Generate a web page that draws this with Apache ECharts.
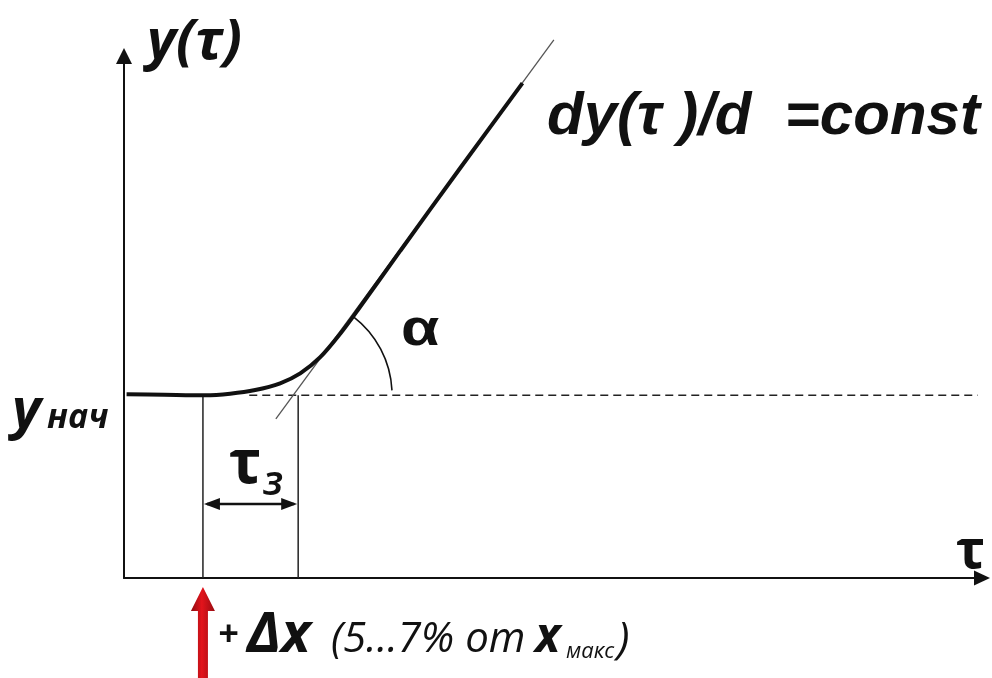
<!DOCTYPE html>
<html>
<head>
<meta charset="utf-8">
<script src="https://cdn.jsdelivr.net/npm/echarts@6/dist/echarts.min.js"></script>
<style>
  html, body { margin: 0; padding: 0; background: #fff; }
  #chart { width: 992px; height: 678px; }
</style>
</head>
<body>
<div id="chart"></div>
<script>
// Step response of an object with transport delay: y(τ) after a step +Δx
const stepTime = 0.92;          // moment of the step input
const delayEnd = 2.03;          // end of the delay τз
const yStart = 3.5;             // initial output level y_нач

// response curve
const curveTau = [0.03, 0.47, 0.945, 1.237, 1.529, 1.820, 2.054, 2.287, 2.520, 2.719, 3.221, 3.921, 4.644];
const curveY   = [3.52, 3.51, 3.50,  3.53,  3.60,  3.73,  3.92,  4.23,  4.68,  5.12,  6.27,  7.86,  9.48];

// tangent to the straight part of the response
const tangentTau = [1.77, 5.01];
const tangentY   = [3.05, 10.31];

// dashed continuation of the initial level
const levelTau = [1.46, 9.95];

// height of the τз dimension arrow
const delayArrowY = 1.42;

const curveData = curveTau.map((t, i) => [t, curveY[i]]);
const tangentData = tangentTau.map((t, i) => [t, tangentY[i]]);
const levelData = levelTau.map(t => [t, yStart]);
const stepLine = [[stepTime, 0], [stepTime, yStart]];
const delayLine = [[delayEnd, 0], [delayEnd, yStart]];

// where the tangent crosses the initial level (vertex of the angle α)
const tangentSlope = (tangentY[1] - tangentY[0]) / (tangentTau[1] - tangentTau[0]);
const crossTau = tangentTau[0] + (yStart - tangentY[0]) / tangentSlope;

const ink = '#111';

const chart = echarts.init(document.getElementById('chart'), null, { renderer: 'canvas' });

function arrowHead(tipX, tipY, dir, len, half, color) {
  return {
    type: 'polygon',
    shape: { points: [[tipX, tipY], [tipX - dir * len, tipY - half], [tipX - dir * len, tipY + half]] },
    style: { fill: color }
  };
}

chart.setOption({
  animation: false,
  backgroundColor: '#fff',
  grid: { left: 124, right: 10, top: 56, bottom: 100 },
  xAxis: {
    type: 'value', min: 0, max: 10,
    axisLine: { show: true, onZero: false, symbol: ['none', 'triangle'], symbolSize: [15, 16],
      lineStyle: { color: ink, width: 2 } },
    axisTick: { show: false }, axisLabel: { show: false }, splitLine: { show: false }
  },
  yAxis: {
    type: 'value', min: 0, max: 10,
    axisLine: { show: true, onZero: false, symbol: ['none', 'triangle'], symbolSize: [16, 16],
      lineStyle: { color: ink, width: 2 } },
    axisTick: { show: false }, axisLabel: { show: false }, splitLine: { show: false }
  },
  series: [
    { type: 'line', data: levelData, symbol: 'none', silent: true,
      lineStyle: { color: '#222', width: 1.5, type: [8, 5] } },
    { type: 'line', data: stepLine, symbol: 'none', silent: true,
      lineStyle: { color: '#222', width: 1.5 } },
    { type: 'line', data: delayLine, symbol: 'none', silent: true,
      lineStyle: { color: '#222', width: 1.5 } },
    { type: 'line', data: tangentData, symbol: 'none', silent: true, clip: false,
      lineStyle: { color: '#555', width: 1.3 } },
    { type: 'line', data: curveData, symbol: 'none', silent: true, smooth: 0.3,
      lineStyle: { color: ink, width: 4 } },
    // τз dimension arrow
    { type: 'custom', silent: true, data: [[stepTime, delayEnd, delayArrowY]],
      renderItem: function (params, api) {
        const a = api.coord([api.value(0), api.value(2)]);
        const b = api.coord([api.value(1), api.value(2)]);
        return { type: 'group', children: [
          { type: 'line', shape: { x1: a[0] + 4, y1: a[1], x2: b[0] - 4, y2: b[1] },
            style: { stroke: ink, lineWidth: 2.5 } },
          arrowHead(a[0] + 1, a[1], -1, 16, 6, ink),
          arrowHead(b[0] - 1, b[1], 1, 16, 6, ink)
        ] };
      } },
    // angle α between the tangent and the initial level
    { type: 'custom', silent: true, clip: false, data: [[crossTau, yStart]],
      renderItem: function (params, api) {
        const c = api.coord([api.value(0), api.value(1)]);
        const p1 = api.coord(tangentData[0]);
        const p2 = api.coord(tangentData[1]);
        const ang = Math.atan2(p2[1] - p1[1], p2[0] - p1[0]);
        return { type: 'arc',
          shape: { cx: c[0], cy: c[1], r: 99, startAngle: ang + 0.02, endAngle: -0.05, clockwise: true },
          style: { stroke: ink, lineWidth: 1.6, fill: null } };
      } },
    // step input +Δx arrow below the time axis
    { type: 'custom', silent: true, clip: false, data: [[stepTime, 0]],
      renderItem: function (params, api) {
        const p = api.coord([api.value(0), api.value(1)]);
        const x = p[0], y = p[1];
        const grad = new echarts.graphic.LinearGradient(0, 0, 1, 0, [
          { offset: 0, color: '#8e0b10' }, { offset: 0.45, color: '#e3141c' }, { offset: 1, color: '#9a0c12' }
        ]);
        return { type: 'polygon',
          shape: { points: [[x, y + 9], [x + 12, y + 33], [x + 5, y + 33], [x + 5, y + 105],
                            [x - 5, y + 105], [x - 5, y + 33], [x - 12, y + 33]] },
          style: { fill: grad } };
      } }
  ],
  graphic: [
    { type: 'text', style: { x: 147, y: 43, text: 'y(τ)', textVerticalAlign: 'middle',
      font: 'italic bold 56px "Open Sans"', fill: ink } },
    { type: 'text', style: { x: 12, y: 412, text: 'y', textVerticalAlign: 'middle',
      font: 'italic bold 56px "Open Sans"', fill: ink } },
    { type: 'text', style: { x: 47, y: 418, text: 'нач', textVerticalAlign: 'middle',
      font: 'italic bold 34px "Open Sans"', fill: ink } },
    { type: 'text', style: { x: 229, y: 466, text: 'τ', textVerticalAlign: 'middle',
      font: 'bold 60px "Open Sans"', fill: ink } },
    { type: 'text', style: { x: 263, y: 483, text: 'з', textVerticalAlign: 'middle',
      font: 'italic 600 42px "Open Sans"', fill: ink } },
    { type: 'text', style: { x: 956, y: 553, text: 'τ', textVerticalAlign: 'middle',
      font: 'bold 54px "Open Sans"', fill: ink } },
    { type: 'text', style: { x: 547, y: 117, text: 'dy(τ )/d  =const', textVerticalAlign: 'middle',
      font: 'italic bold 60px "Liberation Sans"', fill: ink } },
    { type: 'text', x: 401, y: 331, scaleX: 1.2,
      style: { x: 0, y: 0, text: 'α', textVerticalAlign: 'middle',
      font: 'bold 52px "Liberation Sans"', fill: ink } },
    { type: 'text', style: { x: 218, y: 636, text: '+', textVerticalAlign: 'middle',
      font: 'italic bold 36px "Open Sans"', fill: ink } },
    { type: 'text', style: { x: 247, y: 636, text: 'Δx', textVerticalAlign: 'middle',
      font: 'italic bold 56px "Open Sans"', fill: ink } },
    { type: 'text', style: { x: 331, y: 640, text: '(5...7% от', textVerticalAlign: 'middle',
      font: 'italic 42px "Open Sans"', fill: ink } },
    { type: 'text', style: { x: 535, y: 638, text: 'x', textVerticalAlign: 'middle',
      font: 'italic bold 48px "Open Sans"', fill: ink } },
    { type: 'text', style: { x: 566, y: 652, text: 'макс', textVerticalAlign: 'middle',
      font: 'italic 22px "Open Sans"', fill: ink } },
    { type: 'text', style: { x: 617, y: 640, text: ')', textVerticalAlign: 'middle',
      font: 'italic 44px "Open Sans"', fill: ink } }
  ]
});
</script>
</body>
</html>
